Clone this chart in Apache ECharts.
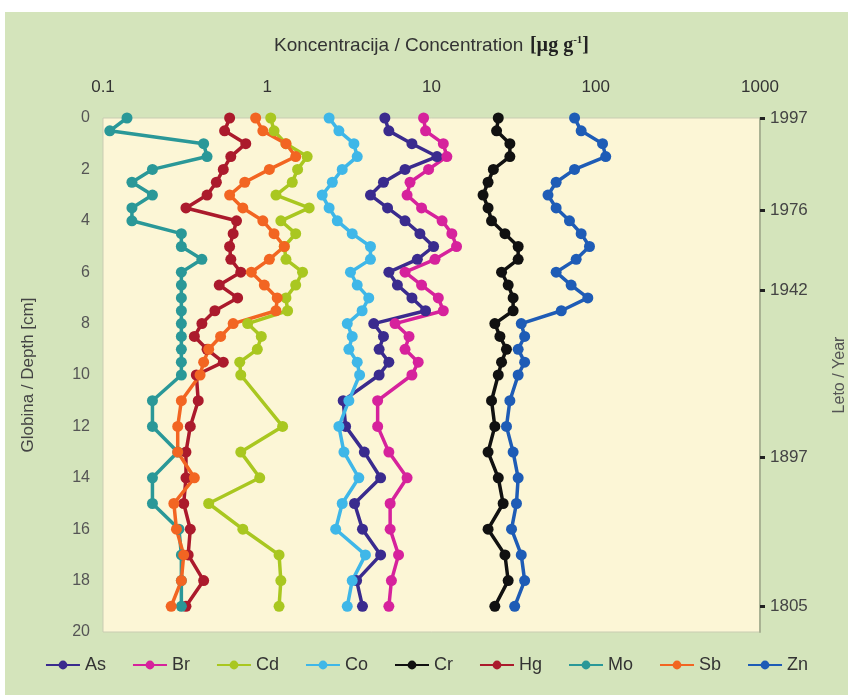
<!DOCTYPE html>
<html>
<head>
<meta charset="utf-8">
<script src="https://cdn.jsdelivr.net/npm/echarts@6/dist/echarts.min.js"></script>
<style>
  html, body { margin: 0; padding: 0; background: #ffffff; }
  #chart { position: absolute; left: 5px; top: 12px; width: 843px; height: 683px; }
</style>
</head>
<body>
<div id="chart"></div>
<script>
// depth of each sample [cm]
const depths = [0, 0.5, 1, 1.5, 2, 2.5, 3, 3.5, 4, 4.5, 5, 5.5, 6, 6.5, 7, 7.5, 8, 8.5, 9, 9.5, 10,
  11, 12, 13, 14, 15, 16, 17, 18, 19];

// concentrations [µg g-1]
const asVals = [5.2, 5.5, 7.6, 10.8, 6.9, 5.1, 4.25, 5.4, 6.9, 8.5, 10.3, 8.2, 5.5, 6.2, 7.6, 9.2, 4.45, 5.1, 4.8, 5.5, 4.8,
  2.9, 3.0, 3.9, 4.9, 3.4, 3.8, 4.9, 3.5, 3.8];
const brVals = [8.95, 9.2, 11.8, 12.4, 9.6, 7.4, 7.1, 8.7, 11.6, 13.3, 14.2, 10.5, 6.9, 8.7, 11.0, 11.8, 6.0, 7.3, 6.9, 8.3, 7.6,
  4.7, 4.7, 5.5, 7.1, 5.6, 5.6, 6.3, 5.7, 5.5];
const cdVals = [1.05, 1.1, 1.3, 1.75, 1.53, 1.42, 1.13, 1.8, 1.21, 1.49, 1.27, 1.3, 1.64, 1.49, 1.3, 1.33, 0.76, 0.92, 0.87, 0.68, 0.69,
  null, 1.24, 0.69, 0.9, 0.44, 0.71, 1.18, 1.21, 1.18];
const coVals = [2.38, 2.73, 3.37, 3.53, 2.86, 2.49, 2.16, 2.38, 2.67, 3.29, 4.25, 4.25, 3.21, 3.53, 4.15, 3.78, 3.07, 3.29, 3.14, 3.53, 3.65,
  3.14, 2.73, 2.93, 3.61, 2.86, 2.61, 3.96, 3.29, 3.07];
const crVals = [25.5, 24.9, 30.0, 30.0, 23.8, 22.1, 20.6, 22.1, 23.2, 28.0, 33.7, 33.7, 26.7, 29.3, 31.4, 31.4, 24.3, 26.1, 28.6, 26.7, 25.5,
  23.2, 24.3, 22.1, 25.5, 27.3, 22.1, 28.0, 29.3, 24.3];
const hgVals = [0.59, 0.55, 0.74, 0.60, 0.54, 0.49, 0.43, 0.32, 0.65, 0.62, 0.59, 0.60, 0.69, 0.51, 0.66, 0.48, 0.40, 0.36, 0.43, 0.54, 0.37,
  0.38, 0.34, 0.32, 0.32, 0.31, 0.34, 0.33, 0.41, 0.32];
const moVals = [0.14, 0.11, 0.41, 0.43, 0.20, 0.15, 0.20, 0.15, 0.15, 0.30, 0.30, 0.40, 0.30, 0.30, 0.30, 0.30, 0.30, 0.30, 0.30, 0.30, 0.30,
  0.20, 0.20, 0.285, 0.20, 0.20, 0.29, 0.30, 0.30, 0.30];
const sbVals = [0.85, 0.94, 1.30, 1.49, 1.03, 0.73, 0.59, 0.71, 0.94, 1.10, 1.27, 1.03, 0.80, 0.96, 1.15, 1.13, 0.62, 0.52, 0.44, 0.41, 0.39,
  0.30, 0.285, 0.285, 0.36, 0.27, 0.28, 0.31, 0.30, 0.26];
const znVals = [74.3, 81.5, 110, 115, 74.3, 57.4, 51.2, 57.4, 69.2, 81.5, 91.6, 76.0, 57.4, 70.8, 89.5, 61.7, 35.2, 36.9, 33.7, 36.9, 33.7,
  30.0, 28.6, 31.4, 33.7, 32.9, 30.7, 35.2, 36.9, 32.1];

const elements = ['As', 'Br', 'Cd', 'Co', 'Cr', 'Hg', 'Mo', 'Sb', 'Zn'];
const elementVals = [asVals, brVals, cdVals, coVals, crVals, hgVals, moVals, sbVals, znVals];
const elementColors = ['#3a2b8e', '#d6229c', '#a9c720', '#3fb7e8', '#111111', '#ab1a2c', '#2a9898', '#f26522', '#1e5cb6'];

// right axis: dated depths
const yearDepths = [0, 3.6, 6.7, 13.2, 19];
const yearLabels = ['1997', '1976', '1942', '1897', '1805'];

const narrow = '"Liberation Sans Narrow", "Liberation Sans", Arial, sans-serif';
const sans = '"Liberation Sans", Arial, sans-serif';

const chart = echarts.init(document.getElementById('chart'));

const series = elements.map((name, k) => ({
  name,
  type: 'line',
  data: depths.map((d, i) => [elementVals[k][i], d]).filter(p => p[0] != null),
  symbol: 'circle',
  symbolSize: 11,
  lineStyle: { width: 3.5, color: elementColors[k] },
  itemStyle: { color: elementColors[k] },
  xAxisIndex: 0,
  yAxisIndex: 0
}));

chart.setOption({
  backgroundColor: '#d4e4bb',
  animation: false,
  grid: {
    left: 98, right: 88, top: 106, bottom: 63,
    outerBoundsMode: 'none',
    show: true,
    backgroundColor: '#fcf6d6',
    borderColor: '#c9ccb2',
    borderWidth: 1
  },
  legend: {
    data: elements,
    bottom: 16,
    left: 'center',
    itemWidth: 34,
    itemHeight: 11,
    itemGap: 26,
    textStyle: { fontFamily: narrow, fontSize: 18, color: '#333' }
  },
  xAxis: {
    type: 'log',
    logBase: 10,
    min: 0.1,
    max: 1000,
    position: 'top',
    name: '{a|Koncentracija / Concentration}  {b|[µg g}{c|-1}{b|]}',
    nameLocation: 'middle',
    nameGap: 62,
    nameTextStyle: {
      rich: {
        a: { fontFamily: narrow, fontSize: 19, color: '#333' },
        b: { fontFamily: '"Liberation Serif", serif', fontWeight: 'bold', fontSize: 20, color: '#222' },
        c: { fontFamily: '"Liberation Serif", serif', fontWeight: 'bold', fontSize: 11, color: '#222', padding: [0, 0, 10, 0] }
      }
    },
    axisLine: { show: false },
    axisTick: { show: false },
    splitLine: { show: false },
    axisLabel: {
      margin: 22,
      fontFamily: narrow,
      fontSize: 17,
      color: '#333',
      formatter: v => String(v)
    }
  },
  yAxis: [{
    type: 'value',
    inverse: true,
    min: 0,
    max: 20,
    interval: 2,
    name: 'Globina / Depth [cm]',
    nameLocation: 'middle',
    nameGap: 66,
    nameRotate: 90,
    nameTextStyle: { fontFamily: narrow, fontSize: 17, color: '#444' },
    axisLine: { show: false },
    axisTick: { show: false },
    splitLine: { show: false },
    axisLabel: { margin: 13, fontFamily: sans, fontSize: 16, color: '#555' }
  }, {
    type: 'value',
    position: 'right',
    inverse: true,
    min: 0,
    max: 20,
    name: 'Leto / Year',
    nameLocation: 'middle',
    nameGap: 72,
    nameRotate: 90,
    nameTextStyle: { fontFamily: sans, fontSize: 16, color: '#555' },
    axisLine: { show: true, lineStyle: { color: '#a9b293', width: 2 } },
    axisTick: {
      show: true,
      customValues: yearDepths,
      length: 5,
      lineStyle: { color: '#222', width: 3 }
    },
    splitLine: { show: false },
    axisLabel: {
      customValues: yearDepths,
      margin: 10,
      fontFamily: sans,
      fontSize: 17,
      color: '#444',
      formatter: v => {
        const i = yearDepths.indexOf(v);
        return i >= 0 ? yearLabels[i] : '';
      }
    }
  }],
  series
});
</script>
</body>
</html>
